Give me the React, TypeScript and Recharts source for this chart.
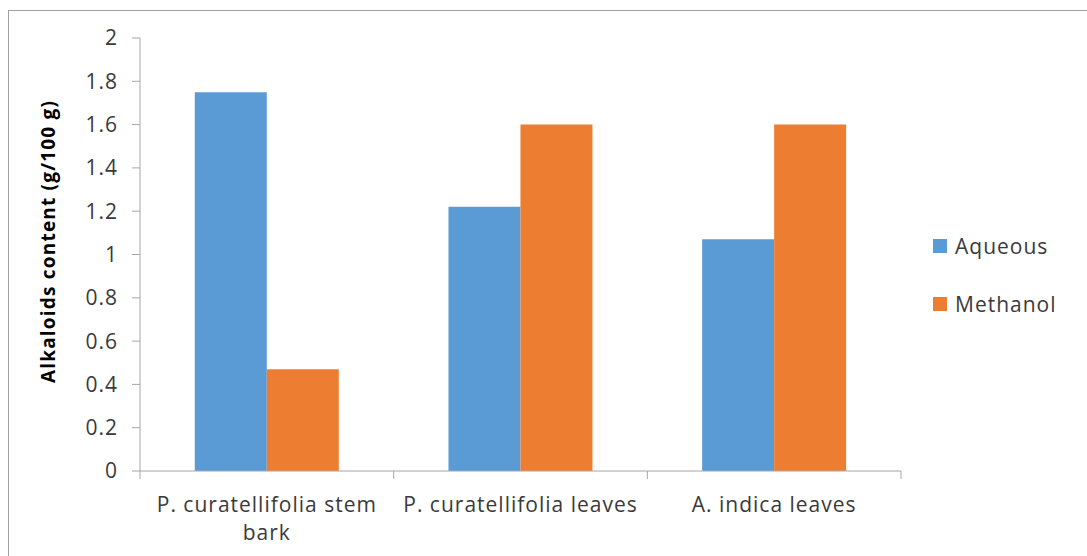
import { Bar, BarChart, XAxis, YAxis } from "recharts";

const categories = ["P. curatellifolia stem bark", "P. curatellifolia leaves", "A. indica leaves"];
const aqueous = [1.75, 1.22, 1.07];
const methanol = [0.47, 1.6, 1.6];
const yTicks = [0, 0.2, 0.4, 0.6, 0.8, 1, 1.2, 1.4, 1.6, 1.8, 2];

const BLUE = "#5b9bd5";
const ORANGE = "#ed7d31";
const AXIS = "#a6a6a6";
const INK = "#3a3a3a";
const FONT = "'Open Sans', Lato, sans-serif";
const SIZE = 21;
const SPACING = 1;
const WRAP = 250;

const data = categories.map((name, i) => ({
  name,
  Aqueous: aqueous[i],
  Methanol: methanol[i],
}));

let ctx: CanvasRenderingContext2D | null = null;
function measure(s: string) {
  if (!ctx) ctx = document.createElement("canvas").getContext("2d");
  if (!ctx) return s.length * SIZE * 0.55;
  ctx.font = `${SIZE}px ${FONT}`;
  return ctx.measureText(s).width + s.length * SPACING;
}

function wrap(label: string) {
  const lines: string[] = [];
  let cur = "";
  for (const w of label.split(" ")) {
    const next = cur ? `${cur} ${w}` : w;
    if (cur && measure(next) > WRAP) {
      lines.push(cur);
      cur = w;
    } else cur = next;
  }
  if (cur) lines.push(cur);
  return lines;
}

// excel-style ticks sit between categories, so draw them from the band offset
function CategoryTick(props: any) {
  const { x, y, payload, index, visibleTicksCount } = props;
  const half = payload.offset ?? 0;
  const lines = wrap(String(payload.value));
  return (
    <g>
      <line x1={x - half} y1={y} x2={x - half} y2={y + 8} stroke={AXIS} />
      {index === visibleTicksCount - 1 && (
        <line x1={x + half} y1={y} x2={x + half} y2={y + 8} stroke={AXIS} />
      )}
      <text
        x={x}
        y={y + 41}
        textAnchor="middle"
        fontSize={SIZE}
        fontFamily={FONT}
        letterSpacing={SPACING}
        fill={INK}
      >
        {lines.map((l, i) => (
          <tspan key={i} x={x} dy={i === 0 ? 0 : 28}>
            {l}
          </tspan>
        ))}
      </text>
    </g>
  );
}

function AxisTitle(props: any) {
  const { viewBox } = props;
  const cx = viewBox.x + 48;
  const cy = viewBox.y + viewBox.height / 2 - 13;
  return (
    <text
      x={cx}
      y={cy}
      transform={`rotate(-90, ${cx}, ${cy})`}
      textAnchor="middle"
      dominantBaseline="central"
      fontSize={19}
      fontWeight="bold"
      letterSpacing={1.2}
      fontFamily={FONT}
      fill="#000"
    >
      Alkaloids content (g/100 g)
    </text>
  );
}

const legendItems = [
  { label: "Aqueous", color: BLUE, top: 246 },
  { label: "Methanol", color: ORANGE, top: 304 },
];

export default function App() {
  return (
    <div style={{ position: "absolute", left: 0, top: 0, width: 1087, height: 556, background: "#fff", overflow: "hidden" }}>
      <div
        style={{
          position: "absolute",
          left: 8,
          top: 10,
          width: 1078,
          height: 560,
          border: "1px solid #a0a0a0",
        }}
      />
      <BarChart
        width={1087}
        height={556}
        data={data}
        margin={{ top: 38, right: 186, bottom: 0, left: 0 }}
        barCategoryGap="21.6%"
        barGap={0}
        style={{ position: "absolute", left: 0, top: 0 }}
      >
        <XAxis
          dataKey="name"
          height={85}
          stroke={AXIS}
          tickLine={false}
          tickSize={0}
          tickMargin={0}
          interval={0}
          tick={<CategoryTick />}
        />
        <YAxis
          width={140}
          domain={[0, 2]}
          ticks={yTicks}
          stroke={AXIS}
          tickSize={8}
          tickMargin={14}
          tick={{ fontSize: SIZE, fontFamily: FONT, fill: INK, letterSpacing: SPACING }}
          label={<AxisTitle />}
        />
        <Bar dataKey="Aqueous" fill={BLUE} isAnimationActive={false} />
        <Bar dataKey="Methanol" fill={ORANGE} isAnimationActive={false} />
      </BarChart>
      {legendItems.map((item) => (
        <div
          key={item.label}
          style={{
            position: "absolute",
            left: 933,
            top: item.top - 12,
            height: 24,
            display: "flex",
            alignItems: "center",
            fontFamily: FONT,
            fontSize: SIZE,
            letterSpacing: SPACING,
            color: INK,
          }}
        >
          <span style={{ width: 14, height: 14, background: item.color, marginRight: 8, display: "inline-block" }} />
          {item.label}
        </div>
      ))}
    </div>
  );
}
